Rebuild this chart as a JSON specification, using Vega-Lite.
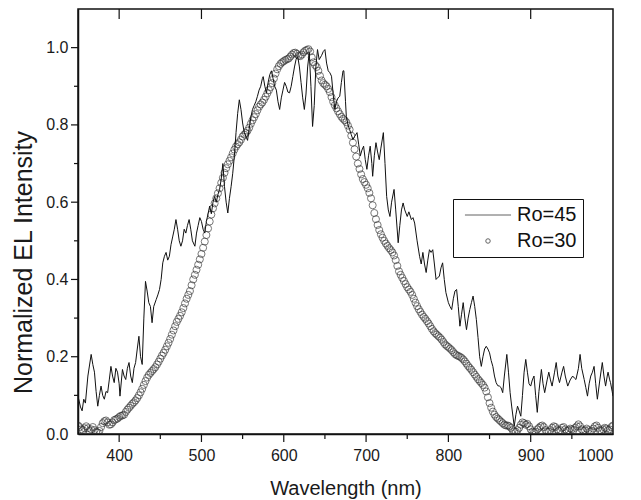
{
  "$schema": "https://vega.github.io/schema/vega-lite/v6.json",
  "autosize": "none",
  "width": 535,
  "height": 425,
  "padding": {"left": 78, "top": 9, "right": 28, "bottom": 66},
  "background": "white",
  "config": {
    "font": "Liberation Sans",
    "view": {"stroke": "#111", "strokeWidth": 1.5},
    "axis": {"domainColor": "#111", "labelColor": "#1a1a1a", "titleColor": "#1a1a1a", "grid": false, "labelFont": "Liberation Sans", "titleFont": "Liberation Sans", "titleFontWeight": "normal", "domainWidth": 1.5}
  },
  "datasets": {
    "xmajor": [{"t":400},{"t":500},{"t":600},{"t":700},{"t":800},{"t":900}],
    "xminor": [{"t":450},{"t":550},{"t":650},{"t":750},{"t":850},{"t":950}],
    "ymajor": [{"t":0.2},{"t":0.4},{"t":0.6},{"t":0.8},{"t":1.0}],
    "yminor": [{"t":0.1},{"t":0.3},{"t":0.5},{"t":0.7},{"t":0.9}],
    "ro45": [
      {"w":350,"v":0.098},{"w":353,"v":0.07},{"w":355,"v":0.06},{"w":357,"v":0.09},{"w":359,"v":0.08},{"w":362,"v":0.15},{"w":366,"v":0.206},{"w":368,"v":0.18},{"w":370,"v":0.16},{"w":372,"v":0.11},{"w":374,"v":0.072},{"w":376,"v":0.10},{"w":378,"v":0.124},{"w":380,"v":0.10},{"w":382,"v":0.09},{"w":384,"v":0.11},{"w":386,"v":0.107},{"w":388,"v":0.14},{"w":390,"v":0.175},{"w":392,"v":0.15},{"w":394,"v":0.133},{"w":396,"v":0.17},{"w":398,"v":0.16},{"w":400,"v":0.13},{"w":401,"v":0.098},{"w":404,"v":0.167},{"w":406,"v":0.15},{"w":408,"v":0.141},{"w":410,"v":0.17},{"w":412,"v":0.185},{"w":414,"v":0.15},{"w":416,"v":0.133},{"w":418,"v":0.17},{"w":420,"v":0.185},{"w":422,"v":0.22},{"w":424,"v":0.253},{"w":426,"v":0.20},{"w":428,"v":0.18},{"w":430,"v":0.30},{"w":432,"v":0.395},{"w":434,"v":0.37},{"w":436,"v":0.34},{"w":438,"v":0.33},{"w":440,"v":0.288},{"w":442,"v":0.33},{"w":445,"v":0.348},{"w":447,"v":0.36},{"w":449,"v":0.374},{"w":451,"v":0.40},{"w":453,"v":0.443},{"w":455,"v":0.46},{"w":457,"v":0.47},{"w":459,"v":0.45},{"w":461,"v":0.46},{"w":463,"v":0.49},{"w":465,"v":0.51},{"w":467,"v":0.53},{"w":469,"v":0.555},{"w":471,"v":0.53},{"w":473,"v":0.50},{"w":475,"v":0.486},{"w":477,"v":0.50},{"w":479,"v":0.53},{"w":481,"v":0.52},{"w":483,"v":0.54},{"w":485,"v":0.555},{"w":487,"v":0.53},{"w":489,"v":0.50},{"w":492,"v":0.486},{"w":494,"v":0.52},{"w":496,"v":0.54},{"w":498,"v":0.56},{"w":500,"v":0.55},{"w":502,"v":0.53},{"w":504,"v":0.52},{"w":506,"v":0.55},{"w":508,"v":0.57},{"w":510,"v":0.59},{"w":512,"v":0.57},{"w":514,"v":0.60},{"w":516,"v":0.615},{"w":518,"v":0.60},{"w":520,"v":0.62},{"w":522,"v":0.633},{"w":524,"v":0.66},{"w":526,"v":0.70},{"w":528,"v":0.64},{"w":530,"v":0.60},{"w":532,"v":0.572},{"w":534,"v":0.61},{"w":536,"v":0.64},{"w":538,"v":0.675},{"w":540,"v":0.72},{"w":542,"v":0.78},{"w":544,"v":0.83},{"w":546,"v":0.865},{"w":548,"v":0.84},{"w":550,"v":0.805},{"w":552,"v":0.78},{"w":554,"v":0.77},{"w":556,"v":0.76},{"w":558,"v":0.79},{"w":560,"v":0.82},{"w":562,"v":0.84},{"w":564,"v":0.85},{"w":566,"v":0.86},{"w":568,"v":0.874},{"w":570,"v":0.89},{"w":572,"v":0.90},{"w":574,"v":0.92},{"w":575,"v":0.925},{"w":577,"v":0.90},{"w":579,"v":0.883},{"w":581,"v":0.91},{"w":583,"v":0.93},{"w":585,"v":0.94},{"w":587,"v":0.92},{"w":589,"v":0.90},{"w":591,"v":0.89},{"w":593,"v":0.86},{"w":595,"v":0.84},{"w":597,"v":0.87},{"w":599,"v":0.89},{"w":601,"v":0.91},{"w":603,"v":0.90},{"w":605,"v":0.885},{"w":607,"v":0.883},{"w":609,"v":0.90},{"w":611,"v":0.925},{"w":613,"v":0.95},{"w":615,"v":0.97},{"w":617,"v":0.977},{"w":619,"v":0.95},{"w":621,"v":0.91},{"w":623,"v":0.87},{"w":625,"v":0.84},{"w":627,"v":0.88},{"w":629,"v":0.95},{"w":631,"v":0.987},{"w":633,"v":0.90},{"w":635,"v":0.796},{"w":637,"v":0.85},{"w":639,"v":0.95},{"w":641,"v":0.995},{"w":643,"v":0.969},{"w":646,"v":0.98},{"w":648,"v":0.99},{"w":650,"v":0.995},{"w":652,"v":0.96},{"w":654,"v":0.94},{"w":656,"v":0.935},{"w":658,"v":0.926},{"w":660,"v":0.88},{"w":662,"v":0.84},{"w":664,"v":0.86},{"w":666,"v":0.87},{"w":668,"v":0.874},{"w":670,"v":0.91},{"w":672,"v":0.94},{"w":673,"v":0.94},{"w":675,"v":0.86},{"w":676,"v":0.822},{"w":678,"v":0.80},{"w":680,"v":0.788},{"w":682,"v":0.775},{"w":684,"v":0.762},{"w":686,"v":0.77},{"w":689,"v":0.78},{"w":691,"v":0.75},{"w":693,"v":0.72},{"w":695,"v":0.735},{"w":697,"v":0.745},{"w":699,"v":0.71},{"w":701,"v":0.685},{"w":703,"v":0.72},{"w":705,"v":0.745},{"w":707,"v":0.70},{"w":708,"v":0.667},{"w":710,"v":0.72},{"w":712,"v":0.754},{"w":714,"v":0.73},{"w":716,"v":0.71},{"w":718,"v":0.74},{"w":721,"v":0.78},{"w":723,"v":0.70},{"w":725,"v":0.615},{"w":727,"v":0.58},{"w":729,"v":0.563},{"w":731,"v":0.60},{"w":734,"v":0.633},{"w":736,"v":0.58},{"w":739,"v":0.495},{"w":741,"v":0.54},{"w":743,"v":0.58},{"w":745,"v":0.598},{"w":747,"v":0.58},{"w":750,"v":0.563},{"w":752,"v":0.575},{"w":755,"v":0.555},{"w":757,"v":0.56},{"w":759,"v":0.546},{"w":762,"v":0.50},{"w":765,"v":0.46},{"w":767,"v":0.44},{"w":769,"v":0.47},{"w":771,"v":0.44},{"w":773,"v":0.418},{"w":775,"v":0.45},{"w":777,"v":0.477},{"w":779,"v":0.47},{"w":781,"v":0.477},{"w":783,"v":0.44},{"w":785,"v":0.40},{"w":787,"v":0.405},{"w":789,"v":0.408},{"w":791,"v":0.43},{"w":793,"v":0.443},{"w":795,"v":0.40},{"w":797,"v":0.366},{"w":800,"v":0.34},{"w":802,"v":0.33},{"w":804,"v":0.322},{"w":806,"v":0.35},{"w":808,"v":0.37},{"w":810,"v":0.374},{"w":812,"v":0.33},{"w":814,"v":0.279},{"w":816,"v":0.31},{"w":818,"v":0.34},{"w":820,"v":0.30},{"w":822,"v":0.27},{"w":824,"v":0.30},{"w":826,"v":0.322},{"w":828,"v":0.34},{"w":830,"v":0.357},{"w":832,"v":0.33},{"w":834,"v":0.296},{"w":836,"v":0.25},{"w":838,"v":0.20},{"w":840,"v":0.175},{"w":842,"v":0.20},{"w":844,"v":0.22},{"w":846,"v":0.227},{"w":848,"v":0.22},{"w":850,"v":0.21},{"w":852,"v":0.19},{"w":854,"v":0.175},{"w":856,"v":0.15},{"w":858,"v":0.133},{"w":860,"v":0.125},{"w":862,"v":0.124},{"w":864,"v":0.12},{"w":866,"v":0.107},{"w":868,"v":0.15},{"w":871,"v":0.206},{"w":873,"v":0.16},{"w":875,"v":0.107},{"w":877,"v":0.07},{"w":880,"v":0.02},{"w":882,"v":0.05},{"w":884,"v":0.072},{"w":886,"v":0.06},{"w":888,"v":0.046},{"w":890,"v":0.10},{"w":892,"v":0.16},{"w":894,"v":0.193},{"w":896,"v":0.16},{"w":898,"v":0.13},{"w":900,"v":0.124},{"w":902,"v":0.14},{"w":904,"v":0.15},{"w":906,"v":0.10},{"w":908,"v":0.056},{"w":910,"v":0.11},{"w":913,"v":0.167},{"w":915,"v":0.13},{"w":917,"v":0.107},{"w":920,"v":0.14},{"w":922,"v":0.16},{"w":924,"v":0.14},{"w":926,"v":0.124},{"w":929,"v":0.16},{"w":931,"v":0.185},{"w":933,"v":0.15},{"w":935,"v":0.133},{"w":938,"v":0.16},{"w":940,"v":0.175},{"w":942,"v":0.15},{"w":945,"v":0.124},{"w":948,"v":0.14},{"w":951,"v":0.15},{"w":953,"v":0.145},{"w":955,"v":0.141},{"w":958,"v":0.17},{"w":960,"v":0.206},{"w":962,"v":0.17},{"w":965,"v":0.141},{"w":967,"v":0.12},{"w":969,"v":0.098},{"w":971,"v":0.13},{"w":973,"v":0.15},{"w":975,"v":0.16},{"w":977,"v":0.175},{"w":979,"v":0.13},{"w":981,"v":0.09},{"w":984,"v":0.14},{"w":987,"v":0.185},{"w":989,"v":0.15},{"w":991,"v":0.124},{"w":993,"v":0.15},{"w":994,"v":0.16},{"w":996,"v":0.14},{"w":997,"v":0.133},{"w":999,"v":0.11},{"w":1000,"v":0.098}
    ],
    "ro30": [
      {"w":350,"v":0.022},{"w":352,"v":0.018},{"w":354,"v":0.012},{"w":356,"v":0.01},{"w":358,"v":0.015},{"w":360,"v":0.02},{"w":362,"v":0.015},{"w":364,"v":0.008},{"w":366,"v":0.012},{"w":368,"v":0.018},{"w":370,"v":0.01},{"w":372,"v":0.005},{"w":374,"v":0.004},{"w":376,"v":0.008},{"w":378,"v":0.018},{"w":380,"v":0.028},{"w":382,"v":0.033},{"w":384,"v":0.035},{"w":386,"v":0.03},{"w":388,"v":0.024},{"w":390,"v":0.025},{"w":392,"v":0.03},{"w":394,"v":0.036},{"w":396,"v":0.038},{"w":398,"v":0.04},{"w":400,"v":0.044},{"w":402,"v":0.047},{"w":404,"v":0.048},{"w":406,"v":0.05},{"w":408,"v":0.057},{"w":410,"v":0.063},{"w":412,"v":0.068},{"w":414,"v":0.073},{"w":416,"v":0.078},{"w":418,"v":0.082},{"w":420,"v":0.087},{"w":422,"v":0.093},{"w":424,"v":0.10},{"w":426,"v":0.108},{"w":428,"v":0.117},{"w":430,"v":0.127},{"w":432,"v":0.137},{"w":434,"v":0.146},{"w":436,"v":0.153},{"w":438,"v":0.158},{"w":440,"v":0.163},{"w":442,"v":0.168},{"w":444,"v":0.173},{"w":446,"v":0.18},{"w":448,"v":0.187},{"w":450,"v":0.195},{"w":452,"v":0.203},{"w":454,"v":0.21},{"w":456,"v":0.218},{"w":458,"v":0.227},{"w":460,"v":0.236},{"w":462,"v":0.246},{"w":464,"v":0.257},{"w":466,"v":0.268},{"w":468,"v":0.279},{"w":470,"v":0.29},{"w":472,"v":0.298},{"w":474,"v":0.306},{"w":476,"v":0.315},{"w":478,"v":0.326},{"w":480,"v":0.338},{"w":482,"v":0.35},{"w":484,"v":0.36},{"w":486,"v":0.37},{"w":488,"v":0.385},{"w":490,"v":0.40},{"w":492,"v":0.412},{"w":494,"v":0.425},{"w":496,"v":0.438},{"w":498,"v":0.452},{"w":500,"v":0.466},{"w":502,"v":0.482},{"w":504,"v":0.498},{"w":506,"v":0.515},{"w":508,"v":0.532},{"w":510,"v":0.55},{"w":512,"v":0.568},{"w":514,"v":0.584},{"w":516,"v":0.597},{"w":518,"v":0.61},{"w":520,"v":0.623},{"w":522,"v":0.636},{"w":524,"v":0.65},{"w":526,"v":0.663},{"w":528,"v":0.676},{"w":530,"v":0.688},{"w":532,"v":0.698},{"w":534,"v":0.707},{"w":536,"v":0.716},{"w":538,"v":0.726},{"w":540,"v":0.736},{"w":542,"v":0.744},{"w":544,"v":0.75},{"w":546,"v":0.755},{"w":548,"v":0.762},{"w":550,"v":0.77},{"w":552,"v":0.775},{"w":554,"v":0.779},{"w":556,"v":0.785},{"w":558,"v":0.793},{"w":560,"v":0.803},{"w":562,"v":0.812},{"w":564,"v":0.82},{"w":566,"v":0.828},{"w":568,"v":0.838},{"w":570,"v":0.847},{"w":572,"v":0.853},{"w":574,"v":0.858},{"w":576,"v":0.865},{"w":578,"v":0.873},{"w":580,"v":0.882},{"w":582,"v":0.89},{"w":584,"v":0.898},{"w":586,"v":0.908},{"w":588,"v":0.92},{"w":590,"v":0.933},{"w":592,"v":0.944},{"w":594,"v":0.952},{"w":596,"v":0.958},{"w":598,"v":0.962},{"w":600,"v":0.965},{"w":602,"v":0.968},{"w":604,"v":0.97},{"w":606,"v":0.972},{"w":608,"v":0.977},{"w":610,"v":0.982},{"w":612,"v":0.986},{"w":614,"v":0.987},{"w":616,"v":0.984},{"w":618,"v":0.979},{"w":620,"v":0.978},{"w":622,"v":0.982},{"w":624,"v":0.988},{"w":626,"v":0.992},{"w":628,"v":0.994},{"w":630,"v":0.996},{"w":632,"v":0.99},{"w":634,"v":0.975},{"w":636,"v":0.962},{"w":638,"v":0.955},{"w":640,"v":0.95},{"w":642,"v":0.94},{"w":644,"v":0.927},{"w":646,"v":0.915},{"w":648,"v":0.908},{"w":650,"v":0.904},{"w":652,"v":0.90},{"w":654,"v":0.893},{"w":656,"v":0.885},{"w":658,"v":0.872},{"w":660,"v":0.86},{"w":662,"v":0.851},{"w":664,"v":0.843},{"w":666,"v":0.835},{"w":668,"v":0.828},{"w":670,"v":0.821},{"w":672,"v":0.816},{"w":674,"v":0.812},{"w":676,"v":0.807},{"w":678,"v":0.798},{"w":680,"v":0.788},{"w":682,"v":0.772},{"w":684,"v":0.754},{"w":686,"v":0.737},{"w":688,"v":0.718},{"w":690,"v":0.70},{"w":692,"v":0.686},{"w":694,"v":0.672},{"w":696,"v":0.66},{"w":698,"v":0.652},{"w":700,"v":0.645},{"w":702,"v":0.636},{"w":704,"v":0.624},{"w":706,"v":0.61},{"w":708,"v":0.592},{"w":710,"v":0.572},{"w":712,"v":0.556},{"w":714,"v":0.541},{"w":716,"v":0.528},{"w":718,"v":0.517},{"w":720,"v":0.508},{"w":722,"v":0.50},{"w":724,"v":0.493},{"w":726,"v":0.487},{"w":728,"v":0.481},{"w":730,"v":0.476},{"w":732,"v":0.47},{"w":734,"v":0.462},{"w":736,"v":0.45},{"w":738,"v":0.435},{"w":740,"v":0.421},{"w":742,"v":0.412},{"w":744,"v":0.404},{"w":746,"v":0.396},{"w":748,"v":0.388},{"w":750,"v":0.38},{"w":752,"v":0.374},{"w":754,"v":0.368},{"w":756,"v":0.36},{"w":758,"v":0.35},{"w":760,"v":0.34},{"w":762,"v":0.331},{"w":764,"v":0.323},{"w":766,"v":0.316},{"w":768,"v":0.309},{"w":770,"v":0.303},{"w":772,"v":0.298},{"w":774,"v":0.292},{"w":776,"v":0.286},{"w":778,"v":0.279},{"w":780,"v":0.272},{"w":782,"v":0.266},{"w":784,"v":0.261},{"w":786,"v":0.257},{"w":788,"v":0.253},{"w":790,"v":0.249},{"w":792,"v":0.244},{"w":794,"v":0.238},{"w":796,"v":0.232},{"w":798,"v":0.228},{"w":800,"v":0.225},{"w":802,"v":0.221},{"w":804,"v":0.217},{"w":806,"v":0.212},{"w":808,"v":0.207},{"w":810,"v":0.204},{"w":812,"v":0.202},{"w":814,"v":0.20},{"w":816,"v":0.197},{"w":818,"v":0.193},{"w":820,"v":0.188},{"w":822,"v":0.182},{"w":824,"v":0.176},{"w":826,"v":0.171},{"w":828,"v":0.166},{"w":830,"v":0.16},{"w":832,"v":0.154},{"w":834,"v":0.148},{"w":836,"v":0.142},{"w":838,"v":0.137},{"w":840,"v":0.132},{"w":842,"v":0.127},{"w":844,"v":0.12},{"w":846,"v":0.11},{"w":848,"v":0.095},{"w":850,"v":0.08},{"w":852,"v":0.068},{"w":854,"v":0.058},{"w":856,"v":0.05},{"w":858,"v":0.044},{"w":860,"v":0.04},{"w":862,"v":0.036},{"w":864,"v":0.032},{"w":866,"v":0.028},{"w":868,"v":0.024},{"w":870,"v":0.022},{"w":872,"v":0.022},{"w":874,"v":0.02},{"w":876,"v":0.016},{"w":878,"v":0.01},{"w":880,"v":0.007},{"w":882,"v":0.006},{"w":884,"v":0.01},{"w":886,"v":0.016},{"w":888,"v":0.024},{"w":890,"v":0.03},{"w":892,"v":0.028},{"w":894,"v":0.024},{"w":896,"v":0.026},{"w":898,"v":0.02},{"w":900,"v":0.012},{"w":902,"v":0.006},{"w":904,"v":0.004},{"w":906,"v":0.006},{"w":908,"v":0.012},{"w":910,"v":0.016},{"w":912,"v":0.02},{"w":914,"v":0.022},{"w":916,"v":0.018},{"w":918,"v":0.01},{"w":920,"v":0.006},{"w":922,"v":0.006},{"w":924,"v":0.01},{"w":926,"v":0.016},{"w":928,"v":0.02},{"w":930,"v":0.018},{"w":932,"v":0.012},{"w":934,"v":0.008},{"w":936,"v":0.01},{"w":938,"v":0.016},{"w":940,"v":0.018},{"w":942,"v":0.012},{"w":944,"v":0.008},{"w":946,"v":0.01},{"w":948,"v":0.014},{"w":950,"v":0.012},{"w":952,"v":0.01},{"w":954,"v":0.016},{"w":956,"v":0.02},{"w":958,"v":0.025},{"w":960,"v":0.02},{"w":962,"v":0.012},{"w":964,"v":0.008},{"w":966,"v":0.01},{"w":968,"v":0.014},{"w":970,"v":0.01},{"w":972,"v":0.006},{"w":974,"v":0.008},{"w":976,"v":0.014},{"w":978,"v":0.02},{"w":980,"v":0.022},{"w":982,"v":0.016},{"w":984,"v":0.01},{"w":986,"v":0.008},{"w":988,"v":0.012},{"w":990,"v":0.016},{"w":992,"v":0.014},{"w":994,"v":0.01},{"w":996,"v":0.012},{"w":998,"v":0.018},{"w":1000,"v":0.022}
    ]
  },
  "layer": [
    {
      "data": {"name": "ro30"},
      "mark": {"type": "point", "filled": false, "stroke": "#2a2a2a", "strokeWidth": 0.9, "size": 50, "clip": true},
      "encoding": {
        "x": {"field": "w", "type": "quantitative", "scale": {"domain": [350, 1000], "nice": false, "zero": false},
          "axis": {"orient": "bottom", "ticks": false, "title": "Wavelength (nm)", "values": [400,500,600,700,800,900,1000], "format": "d",
            "labelFontSize": 16, "labelPadding": 13, "titleFontSize": 20, "titleBaseline": "alphabetic", "titleY": 60}},
        "y": {"field": "v", "type": "quantitative", "scale": {"domain": [0, 1.1], "nice": false},
          "axis": {"ticks": false, "title": "Normalized EL Intensity", "values": [0,0.2,0.4,0.6,0.8,1.0], "format": ".1f",
            "labelFontSize": 16, "labelPadding": 10, "titleFontSize": 25, "titleBaseline": "alphabetic", "titleX": -47, "titleY": 253}},
        "shape": {"datum": "Ro=30", "type": "nominal",
          "scale": {"domain": ["Ro=45", "Ro=30"], "range": ["M-10.3,0L10.3,0", "circle"]},
          "legend": {"title": null, "orient": "none", "legendX": 375, "legendY": 190, "strokeColor": "#111", "fillColor": "white", "padding": 6, "symbolSize": 20, "symbolStrokeColor": "#222", "symbolFillColor": "transparent", "symbolStrokeWidth": 1, "symbolOffset": 19, "labelFontSize": 20, "labelColor": "#111", "labelOffset": 19, "rowPadding": 6}}
      }
    },
    {
      "data": {"name": "ro45"},
      "mark": {"type": "line", "color": "#111", "strokeWidth": 1, "clip": true},
      "encoding": {
        "x": {"field": "w", "type": "quantitative"},
        "y": {"field": "v", "type": "quantitative"}
      }
    },
    {
      "data": {"name": "xmajor"},
      "mark": {"type": "rule", "color": "#111", "strokeWidth": 1.2, "y2Offset": 8, "clip": false},
      "encoding": {"x": {"field": "t", "type": "quantitative"}, "y": {"datum": 0, "type": "quantitative"}, "y2": {"datum": 0}}
    },
    {
      "data": {"name": "xminor"},
      "mark": {"type": "rule", "color": "#111", "strokeWidth": 1.2, "y2Offset": 5, "clip": false},
      "encoding": {"x": {"field": "t", "type": "quantitative"}, "y": {"datum": 0, "type": "quantitative"}, "y2": {"datum": 0}}
    },
    {
      "data": {"name": "xmajor"},
      "mark": {"type": "rule", "color": "#111", "strokeWidth": 1.2, "y2Offset": 10, "clip": false},
      "encoding": {"x": {"field": "t", "type": "quantitative"}, "y": {"datum": 1.1, "type": "quantitative"}, "y2": {"datum": 1.1}}
    },
    {
      "data": {"name": "ymajor"},
      "mark": {"type": "rule", "color": "#111", "strokeWidth": 1.2, "x2Offset": -7, "clip": false},
      "encoding": {"y": {"field": "t", "type": "quantitative"}, "x": {"datum": 350, "type": "quantitative"}, "x2": {"datum": 350}}
    },
    {
      "data": {"name": "yminor"},
      "mark": {"type": "rule", "color": "#111", "strokeWidth": 1.2, "x2Offset": -4, "clip": false},
      "encoding": {"y": {"field": "t", "type": "quantitative"}, "x": {"datum": 350, "type": "quantitative"}, "x2": {"datum": 350}}
    }
  ]
}
